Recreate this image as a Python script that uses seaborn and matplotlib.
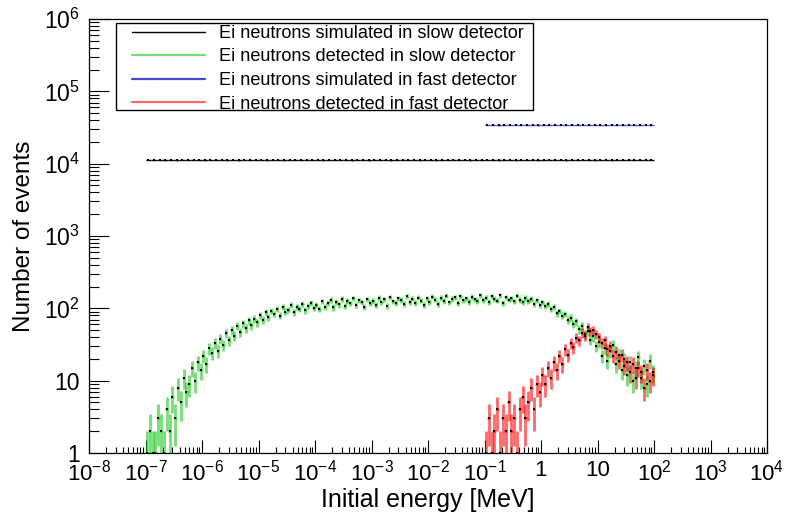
import numpy as np
import pandas as pd
import seaborn as sns
import matplotlib
matplotlib.use('Agg')
import matplotlib.pyplot as plt
from matplotlib.ticker import LogLocator, FuncFormatter, NullFormatter
from matplotlib.lines import Line2D
from matplotlib.patches import Rectangle

# histogram ranges in log10(E / MeV)
slow_range = (-7, 2)
fast_range = (-1, 2)
sim_bins_per_decade = 10
det_bins_per_decade = 20

# Ei neutrons simulated in slow detector (1e-7 .. 1e2 MeV)
slow_simulated = [
    11240, 11180, 11310, 11150, 11260, 11090, 11220, 11340, 11170, 11230,
    11120, 11280, 11200, 11350, 11160, 11250, 11110, 11290, 11190, 11240,
    11300, 11140, 11210, 11260, 11080, 11230, 11320, 11170, 11250, 11190,
    11270, 11130, 11220, 11360, 11180, 11240, 11100, 11280, 11210, 11160,
    11330, 11200, 11250, 11120, 11290, 11180, 11230, 11310, 11150, 11260,
    11200, 11090, 11270, 11220, 11340, 11170, 11240, 11130, 11300, 11190,
    11250, 11210, 11160, 11320, 11230, 11110, 11280, 11200, 11260, 11150,
    11290, 11180, 11240, 11350, 11120, 11220, 11270, 11190, 11310, 11160,
    11230, 11280, 11140, 11250, 11200, 11330, 11170, 11260, 11210, 11240,
]

# Ei neutrons simulated in fast detector (1e-1 .. 1e2 MeV)
fast_simulated = [
    33920, 34110, 33850, 34060, 33980, 34190, 33900, 34030, 34140, 33870,
    34080, 33950, 34170, 34020, 33890, 34100, 33960, 34210, 33930, 34050,
    34120, 33880, 34070, 33990, 34160, 33910, 34040, 34130, 33970, 34090,
]

# Ei neutrons detected in slow detector
slow_detected = [
    1, 2, 1, 1, 3, 2, 1, 4, 2, 6, 3, 8, 5, 11, 7, 9, 15, 10, 18, 14,
    22, 17, 28, 24, 33, 26, 38, 31, 45, 36, 50, 42, 57, 47, 62, 53, 68, 58, 72, 64,
    80, 70, 88, 76, 92, 84, 98, 79, 104, 90, 95, 110, 88, 106, 99, 115, 94, 108, 120, 101,
    112, 98, 125, 106, 118, 131, 103, 122, 113, 135, 108, 126, 117, 138, 110, 129, 121, 104, 133, 119,
    127, 112, 140, 121, 134, 109, 143, 125, 118, 137, 130, 114, 146, 123, 136, 119, 141, 128, 111, 138,
    124, 145, 132, 116, 139, 127, 150, 121, 135, 142, 118, 148, 129, 137, 122, 144, 133, 126, 152, 130,
    141, 123, 147, 135, 128, 151, 119, 143, 132, 138, 125, 149, 131, 122, 140, 127, 135, 116, 129, 112,
    121, 108, 115, 98, 104, 86, 93, 79, 84, 70, 74, 61, 66, 52, 57, 44, 49, 37, 41, 30,
    34, 22, 28, 19, 26, 31, 17, 23, 14, 20, 12, 18, 10, 15, 21, 11, 16, 9, 19, 13,
]

# Ei neutrons detected in fast detector
fast_detected = [
    1, 3, 1, 2, 4, 1, 3, 2, 5, 2, 3, 1, 4, 6, 3, 5, 8, 4, 9, 7,
    12, 9, 15, 11, 18, 14, 22, 17, 27, 23, 33, 29, 39, 36, 46, 42, 55, 48, 50, 44,
    40, 33, 36, 27, 30, 22, 25, 19, 23, 16, 18, 13, 17, 11, 15, 13, 8, 14, 10, 12,
]

labels = ['Ei neutrons simulated in slow detector',
          'Ei neutrons detected in slow detector',
          'Ei neutrons simulated in fast detector',
          'Ei neutrons detected in fast detector']


def make_hist(values, lrange, per_decade):
    n = (lrange[1] - lrange[0]) * per_decade
    edges = np.logspace(lrange[0], lrange[1], n + 1)
    centers = np.sqrt(edges[:-1] * edges[1:])
    vals = np.asarray(values, dtype=float)
    return pd.DataFrame({'energy': centers, 'events': vals,
                         'lo': centers - edges[:-1], 'hi': edges[1:] - centers,
                         'err': np.sqrt(vals)})


sns.set_theme(style='ticks')
plt.rcParams['font.family'] = ['Liberation Sans', 'DejaVu Sans']
plt.rcParams['mathtext.fontset'] = 'custom'
plt.rcParams['mathtext.rm'] = 'Liberation Sans'
plt.rcParams['mathtext.it'] = 'Liberation Sans:italic'
for k in ['text.color', 'axes.labelcolor', 'xtick.color', 'ytick.color', 'axes.edgecolor']:
    plt.rcParams[k] = 'black'

fig = plt.figure(figsize=(7.86, 5.25), dpi=100)
ax = fig.add_axes([89 / 786, 1 - 453 / 525, 678 / 786, 434 / 525])

# values, range, bins per decade, colour, error line width, legend line width
series = [
    (slow_simulated, slow_range, sim_bins_per_decade, (0, 0, 0, 1.0), 1.0, 1.0),
    (slow_detected, slow_range, det_bins_per_decade, (0.1, 0.78, 0.1, 0.6), 2.0, 1.6),
    (fast_simulated, fast_range, sim_bins_per_decade, (0.1, 0.1, 0.8, 0.8), 1.0, 1.6),
    (fast_detected, fast_range, det_bins_per_decade, (1.0, 0.0, 0.0, 0.6), 2.0, 1.6),
]

for values, lrange, per_decade, col, lw, _ in series:
    df = make_hist(values, lrange, per_decade)
    ax.errorbar(df['energy'], df['events'], xerr=[df['lo'], df['hi']], yerr=df['err'],
                fmt='none', ecolor=col, elinewidth=lw, capsize=0)
    sns.scatterplot(data=df, x='energy', y='events', ax=ax, marker='s', s=1.5,
                    color='black', linewidth=0, legend=False, zorder=3)

ax.set_xscale('log')
ax.set_yscale('log')
ax.set_xlim(1e-8, 1e4)
ax.set_ylim(1, 1e6)


def root_fmt(v, pos):
    e = int(round(np.log10(v)))
    if e == 0:
        return '1'
    if e == 1:
        return '10'
    return r'$\mathregular{10^{%d}}$' % e


for axis in (ax.xaxis, ax.yaxis):
    axis.set_major_locator(LogLocator(base=10, numticks=30))
    axis.set_minor_locator(LogLocator(base=10, subs=np.arange(2, 10), numticks=200))
    axis.set_major_formatter(FuncFormatter(root_fmt))
    axis.set_minor_formatter(NullFormatter())

ax.tick_params(axis='x', which='major', direction='in', length=9.4, width=0.8,
               top=False, labelsize=16, pad=5)
ax.tick_params(axis='x', which='minor', direction='in', length=4.5, width=0.8, top=False)
ax.tick_params(axis='y', which='major', direction='in', length=14.4, width=0.8,
               right=False, labelsize=16.5, pad=6.5)
ax.tick_params(axis='y', which='minor', direction='in', length=7.2, width=0.8, right=False)
for sp in ax.spines.values():
    sp.set_linewidth(0.9)

ax.set_xlabel('Initial energy [MeV]', fontsize=18)
ax.set_ylabel('Number of events', fontsize=17.5)
ax.xaxis.set_label_coords(0.5, -0.108)
ax.yaxis.set_label_coords(-0.096, 0.5)
ax.xaxis.label.set_va('center')
ax.yaxis.label.set_va('center')

# legend box drawn by hand, entries placed inside it
fig.patches.append(Rectangle((116 / 786, 1 - 110 / 525), 417 / 786, 87 / 525,
                             transform=fig.transFigure, fill=True, facecolor='white',
                             edgecolor='black', linewidth=1.0, zorder=5))
handles = [Line2D([0], [0], color=s[3], lw=s[5]) for s in series]
leg = fig.legend(handles, labels, loc='upper left',
                 bbox_to_anchor=(131 / 786, 1 - 24 / 525), bbox_transform=fig.transFigure,
                 borderaxespad=0, borderpad=0.05, frameon=False,
                 fontsize=13.1, handlelength=4.0, handletextpad=0.8,
                 labelspacing=0.36)
leg.set_zorder(6)

fig.savefig('out.png', dpi=100)
plt.close()
